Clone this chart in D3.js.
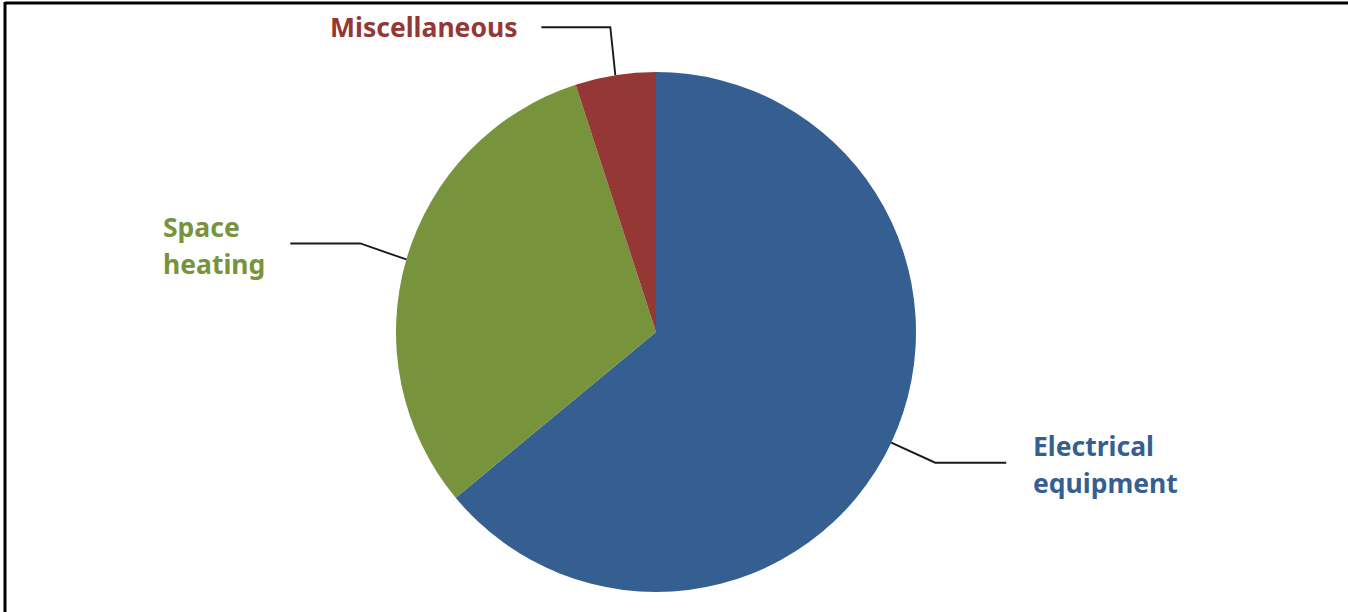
<!DOCTYPE html>
<html><head><meta charset="utf-8">
<script src="https://cdn.jsdelivr.net/npm/d3@7"></script>
<style>html,body{margin:0;padding:0;background:#fff;}svg{display:block;}</style>
</head><body>
<svg id="c" width="1348" height="612"></svg>
<script>
const categories = ["Electrical equipment", "Space heating", "Miscellaneous"];
const values = [64, 31, 5];
const labelLines = [["Electrical", "equipment"], ["Space", "heating"], ["Miscellaneous"]];
const colors = ["#365F91", "#77933C", "#953735"];

const W = 1348, H = 612;
const svg = d3.select("#c");
// frame (top and left edges)
svg.append("line").attr("x1", 5).attr("x2", W).attr("y1", 3).attr("y2", 3).attr("stroke", "#000").attr("stroke-width", 3);
svg.append("line").attr("x1", 5).attr("x2", 5).attr("y1", 2).attr("y2", H).attr("stroke", "#000").attr("stroke-width", 3);

const cx = 656, cy = 332, R = 260;
const pie = d3.pie().sort(null).value(d => d)(values);
const arc = d3.arc().innerRadius(0).outerRadius(R);
const g = svg.append("g").attr("transform", `translate(${cx},${cy})`);
g.selectAll("path").data(pie).join("path").attr("d", arc).attr("fill", (d, i) => colors[i]);

// label layout: elbow offset from anchor, horizontal run, text placement
const layout = [
  {elbow: [44, 20], run: 71, tx: 1033, ty: 456, anchor: "start"},
  {elbow: [-46, -16], run: -70, tx: 163, ty: 237, anchor: "start"},
  {elbow: [-5, -48], run: -69, tx: 330, ty: 37, anchor: "start"}
];
const lineGen = d3.line();
pie.forEach((d, i) => {
  const a = (d.startAngle + d.endAngle) / 2;
  const p0 = [cx + R * Math.sin(a), cy - R * Math.cos(a)];
  const L = layout[i];
  const p1 = [p0[0] + L.elbow[0], p0[1] + L.elbow[1]];
  const p2 = [p1[0] + L.run, p1[1]];
  svg.append("path").attr("d", lineGen([p0, p1, p2])).attr("fill", "none")
    .attr("stroke", "#1a1a1a").attr("stroke-width", 1.9);
  const t = svg.append("text").attr("x", L.tx).attr("y", L.ty)
    .attr("fill", colors[i]).attr("font-family", "'Noto Sans', sans-serif")
    .attr("font-weight", "bold").attr("font-size", 26.5).attr("text-anchor", L.anchor);
  labelLines[i].forEach((s, k) => {
    t.append("tspan").attr("x", L.tx).attr("dy", k === 0 ? 0 : 37).text(s);
  });
});
</script>
</body></html>
